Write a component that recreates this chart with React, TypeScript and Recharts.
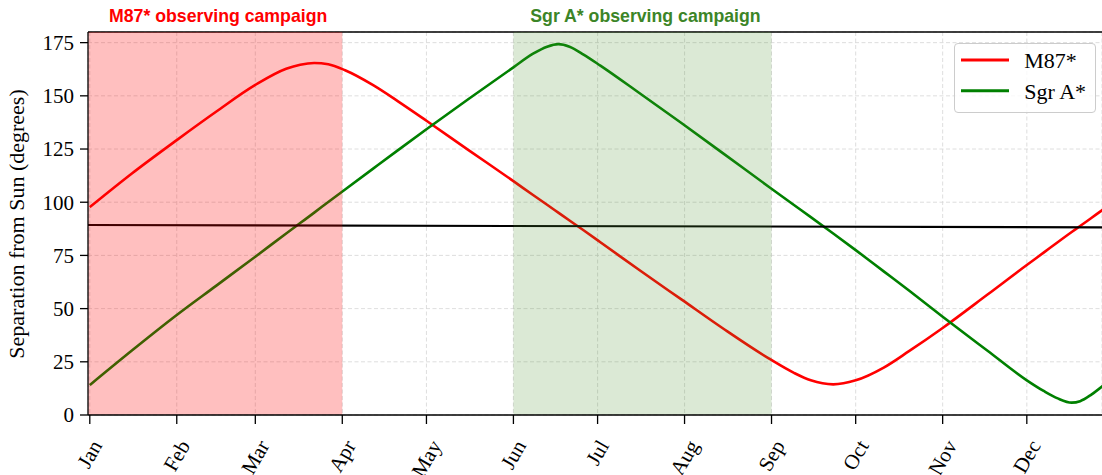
import React from 'react';
import {
  LineChart,
  Line,
  XAxis,
  YAxis,
  CartesianGrid,
  ReferenceArea,
  ReferenceLine,
  Legend,
} from 'recharts';

// ---------- data ----------
// day of year (0 = Jan 1)
const days = [0, 15, 31, 45, 59, 70, 75, 80, 85, 91, 101, 110, 120, 135, 151, 158, 163, 167, 171, 176, 182, 196, 211, 226, 242, 251, 257, 265, 273, 283, 292, 304, 320, 334, 340, 345, 350, 353, 357, 361];
const m87Values = [97.7, 113.5, 129.2, 142.5, 155.1, 162.7, 164.6, 165.4, 164.8, 162.0, 155.0, 147.3, 138.3, 124.5, 109.9, 103.4, 98.8, 95.1, 91.4, 86.8, 81.2, 68.0, 54.2, 40.4, 26.6, 19.8, 16.3, 14.4, 16.3, 22.3, 30.0, 40.9, 56.6, 70.5, 76.3, 81.2, 86.0, 88.8, 92.6, 96.4];
const sgrValues = [14.1, 30.3, 47.0, 60.7, 74.4, 85.3, 90.2, 95.1, 100.1, 106.0, 115.8, 124.6, 134.3, 148.5, 163.4, 169.8, 173.1, 174.3, 173.1, 169.4, 164.2, 151.2, 137.1, 122.7, 107.3, 98.7, 93.0, 85.3, 77.5, 67.5, 58.5, 46.2, 30.2, 16.3, 11.3, 7.8, 5.8, 6.5, 9.6, 13.6];

const monthTicks = [0, 31, 59, 90, 120, 151, 181, 212, 243, 273, 304, 334];
const monthLabels = ['Jan', 'Feb', 'Mar', 'Apr', 'May', 'Jun', 'Jul', 'Aug', 'Sep', 'Oct', 'Nov', 'Dec'];
const yTicks = [0, 25, 50, 75, 100, 125, 150, 175];

const XMIN = -0.64;
const XMAX = 360.8;

// horizon line (start / end)
const horizonDays = [XMIN, XMAX];
const horizonValues = [89.3, 88.2];

const seriesNames = ['M87*', 'Sgr A*'];
const seriesKeys = ['m87', 'sgr'];
const seriesColors = ['#ff0000', '#008000'];

const campaignTitles = ['M87* observing campaign', 'Sgr A* observing campaign'];
const campaignStart = [XMIN, 151];
const campaignEnd = [90, 243];
const campaignFill = ['#ff0000', '#4b912d'];
const campaignOpacity = [0.25, 0.2];
const campaignTextColor = ['#ff0000', '#3c8527'];

const data = days.map((d, i) => ({ day: d, m87: m87Values[i], sgr: sgrValues[i] }));

// ---------- styling ----------
const SERIF = '"Liberation Serif", "DejaVu Serif", serif';
const SANS = '"Liberation Sans", Arial, sans-serif';
const TICK_FS = 21;

let measureCtx: CanvasRenderingContext2D | null = null;
const measure = (s: string, font: string) => {
  if (!measureCtx) measureCtx = document.createElement('canvas').getContext('2d');
  if (!measureCtx) return s.length * 10;
  measureCtx.font = font;
  return measureCtx.measureText(s).width;
};

const XTick = (props: any) => {
  const { x, y, payload } = props;
  const idx = monthTicks.indexOf(payload.value);
  const label = idx >= 0 ? monthLabels[idx] : '';
  const w = measure(label, `${TICK_FS}px ${SERIF}`);
  const ex = x + w / 4;
  const ey = y + 16;
  return (
    <text
      x={ex}
      y={ey}
      transform={`rotate(-60 ${ex} ${ey})`}
      textAnchor="end"
      dominantBaseline="central"
      fontFamily={SERIF}
      fontSize={TICK_FS}
      fill="#000"
    >
      {label}
    </text>
  );
};

const YLabel = () => (
  <text
    x={23.5}
    y={224}
    transform="rotate(-90 23.5 224)"
    textAnchor="middle"
    fontFamily={SERIF}
    fontSize={22}
    fill="#000"
  >
    Separation from Sun (degrees)
  </text>
);

const TitleLabel = (props: any) => {
  const vb = props.viewBox || { x: 0, y: 0, width: 0, height: 0 };
  return (
    <text
      x={vb.x + vb.width / 2 + 3}
      y={vb.y - 9.6}
      textAnchor="middle"
      fill={props.color}
      fontSize={17.7}
      fontWeight="bold"
      fontFamily={SANS}
    >
      {props.title}
    </text>
  );
};

const LegendBox = () => (
  <div
    style={{
      width: 142,
      height: 70,
      boxSizing: 'border-box',
      border: '1px solid #cccccc',
      borderRadius: 4,
      background: 'rgba(255,255,255,0.8)',
    }}
  >
    <svg width={140} height={68} style={{ display: 'block' }}>
      {seriesNames.map((n, i) => (
        <g key={n}>
          <line x1={6} x2={54} y1={16 + i * 30.7} y2={16 + i * 30.7} stroke={seriesColors[i]} strokeWidth={3} />
          <text x={69.3} y={24.3 + i * 31} fontFamily={SERIF} fontSize={22} fill="#000">
            {n}
          </text>
        </g>
      ))}
    </svg>
  </div>
);

export default function App() {
  return (
    <div style={{ position: 'absolute', left: 0, top: 0, width: 1102, height: 475, overflow: 'hidden', background: '#fff' }}>
      <LineChart width={1102} height={475} data={data} margin={{ top: 32, right: 0, bottom: 0, left: 0 }}>
        <CartesianGrid stroke="#d6d6d6" strokeDasharray="4 2.5" strokeWidth={0.8} />
        <XAxis
          dataKey="day"
          type="number"
          domain={[XMIN, XMAX]}
          allowDataOverflow
          ticks={monthTicks}
          interval={0}
          height={60}
          tickSize={9}
          tickMargin={2}
          tick={<XTick />}
          axisLine={{ stroke: '#000', strokeWidth: 1.3 }}
          tickLine={{ stroke: '#000', strokeWidth: 1.3 }}
        />
        <YAxis
          type="number"
          domain={[0, 180]}
          ticks={yTicks}
          interval={0}
          width={88}
          tickSize={8}
          tickMargin={6}
          tick={{ fill: '#000', fontSize: TICK_FS, fontFamily: SERIF }}
          axisLine={{ stroke: '#000', strokeWidth: 1.3 }}
          tickLine={{ stroke: '#000', strokeWidth: 1.3 }}
          label={<YLabel />}
        />
        {seriesKeys.map((k, i) => (
          <Line
            key={k}
            dataKey={k}
            name={seriesNames[i]}
            type="monotone"
            stroke={seriesColors[i]}
            strokeWidth={2.6}
            dot={false}
            activeDot={false}
            isAnimationActive={false}
          />
        ))}
        <ReferenceLine
          segment={[
            { x: horizonDays[0], y: horizonValues[0] },
            { x: horizonDays[1], y: horizonValues[1] },
          ]}
          stroke="#000"
          strokeWidth={2.1}
          ifOverflow="extendDomain"
        />
        {campaignTitles.map((t, i) => (
          <ReferenceArea
            key={t}
            x1={campaignStart[i]}
            x2={campaignEnd[i]}
            y1={0}
            y2={180}
            fill={campaignFill[i]}
            fillOpacity={campaignOpacity[i]}
            stroke="none"
            {...({ zIndex: 450 } as any)}
            label={<TitleLabel title={t} color={campaignTextColor[i]} />}
          />
        ))}
        <ReferenceLine y={180} stroke="#000" strokeWidth={1.3} />
        <Legend
          layout="vertical"
          align="center"
          verticalAlign="middle"
          content={<LegendBox />}
          wrapperStyle={{ left: 954, top: 43, width: 142, height: 70 }}
        />
      </LineChart>
    </div>
  );
}
